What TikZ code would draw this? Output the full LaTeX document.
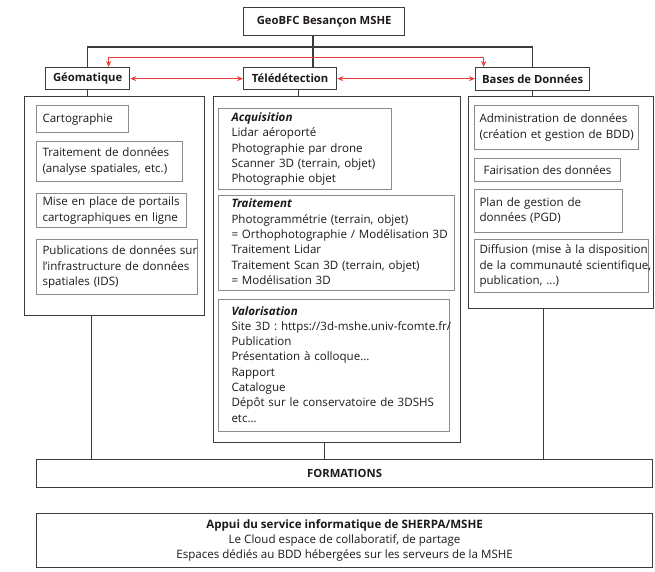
\documentclass[tikz,border=0pt]{standalone}
\usepackage{fontspec}
\setmainfont{Open Sans}
\usetikzlibrary{arrows.meta}
\definecolor{lnc}{HTML}{3C3C3C}
\definecolor{ibc}{HTML}{8C8C8C}
\definecolor{rdc}{HTML}{E8413C}
\definecolor{txc}{HTML}{1E1A1B}
\newcommand\tl[1]{\begin{tabular}{@{}l@{}}#1\end{tabular}}
\newcommand\tc[1]{\begin{tabular}{@{}c@{}}#1\end{tabular}}
\newlength\calwa
\newlength\calwb
% font sizes calibrated on the widths of reference lines
\AtBeginDocument{%
  \settowidth\calwa{\fontsize{10}{12}\selectfont = Orthophotographie / Modélisation 3D}%
  \settowidth\calwb{\fontsize{10}{12}\selectfont Site 3D : https://3d-mshe.univ-fcomte.fr/}%
  \pgfmathsetmacro\bszx{4300/(\calwa+\calwb)}\global\let\bsz\bszx
  \settowidth\calwa{\fontsize{10}{12}\selectfont\bfseries Bases de Données}%
  \pgfmathsetmacro\hszx{1010/\calwa}\global\let\hsz\hszx
}
\begin{document}
\begin{tikzpicture}[x=1pt,y=-1pt,
  every node/.style={font=\fontsize{\bsz}{15.3}\selectfont, text=txc},
  head/.style={draw=lnc, line width=1.3pt, font=\fontsize{\hsz}{15.3}\selectfont\bfseries, anchor=north west, inner sep=0pt},
  outer/.style={draw=lnc, line width=1.2pt, anchor=north west, inner sep=0pt},
  inbox/.style={draw=ibc, line width=1pt, anchor=north west, align=left, inner ysep=0pt},
  conn/.style={draw=lnc, line width=1.1pt},
  rarr/.style={draw=rdc, line width=0.8pt, {Stealth[length=6pt,width=5pt]}-{Stealth[length=6pt,width=5pt]}},
]
\useasboundingbox (0,0) rectangle (655,571);
\fill[white] (0,0) rectangle (655,571);

% top and level-2 boxes
\node[head, minimum width=161pt, minimum height=28pt] (top) at (243,7) {GeoBFC Besançon MSHE};
\node[head, minimum width=84pt, minimum height=22pt] (geo) at (45,67) {Géomatique};
\node[head, minimum width=93pt, minimum height=22pt] (tele) at (243,67) {Télédétection};
\node[head, minimum width=114pt, minimum height=23pt] (bdd) at (475,67) {Bases de Données};

% big boxes
\node[outer, minimum width=180pt, minimum height=219pt] (geobig) at (24,96) {};
\node[outer, minimum width=247pt, minimum height=346pt] (telebig) at (213,96) {};
\node[outer, minimum width=185pt, minimum height=212pt] (bddbig) at (468,96) {};

% Geomatique items
\node[inbox, inner xsep=6pt, text width=80pt, minimum height=27pt] (carto) at (36,105) {\tl{Cartographie}};
\node[inbox, inner xsep=6pt, text width=134pt, minimum height=40pt] (trdon) at (36,141) {\tl{Traitement de données\\(analyse spatiales, etc.)}};
\node[inbox, inner xsep=6pt, text width=138pt, minimum height=34pt] (portail) at (36,193) {\tl{Mise en place de portails\\cartographiques en ligne}};
\node[inbox, inner xsep=6pt, text width=149pt, minimum height=55pt] (ids) at (36,239) {\tl{Publications de données sur\\l'infrastructure de données\\spatiales (IDS)}};

% Teledetection items
\node[inbox, inner xsep=13pt, text width=147pt, minimum height=81pt] (acq) at (218,108) {\tl{\textbf{\textit{Acquisition}}\\Lidar aéroporté\\Photographie par drone\\Scanner 3D (terrain, objet)\\Photographie objet}};
\node[inbox, inner xsep=13pt, text width=210pt, minimum height=95pt] (trait) at (218,195) {\tl{\textbf{\textit{Traitement}}\\Photogrammétrie (terrain, objet)\\= Orthophotographie / Modélisation 3D\\Traitement Lidar\\Traitement Scan 3D (terrain, objet)\\= Modélisation 3D}};
\node[inbox, inner xsep=13pt, text width=205pt, minimum height=132pt] (valo) at (218,299) {\tl{\textbf{\textit{Valorisation}}\\Site 3D : https://3d-mshe.univ-fcomte.fr/\\Publication\\Présentation à colloque...\\Rapport\\Catalogue\\Dépôt sur le conservatoire de 3DSHS\\etc...}};

% Bases de donnees items
\node[inbox, inner xsep=5pt, text width=154pt, minimum height=44pt] (admin) at (474,105) {\tl{Administration de données\\(création et gestion de BDD)}};
\node[inbox, align=center, inner xsep=0pt, minimum width=146pt, minimum height=23pt] (fair) at (474,158) {Fairisation des données};
\node[inbox, inner xsep=5pt, text width=138pt, minimum height=43pt] (plan) at (474,189) {\tl{Plan de gestion de\\données (PGD)}};
\node[inbox, inner xsep=5pt, text width=164pt, minimum height=53pt] (diff) at (474,239) {\tl{Diffusion (mise à la disposition\\de la communauté scientifique,\\publication, ...)}};

% bottom boxes
\node[outer, font=\fontsize{\hsz}{15.3}\selectfont\bfseries, minimum width=616pt, minimum height=28pt] (form) at (36,459) {FORMATIONS};
\node[outer, minimum width=616pt, minimum height=54pt] (appui) at (36,513) {\tc{\textbf{Appui du service informatique de SHERPA/MSHE}\\Le Cloud espace de collaboratif, de partage\\Espaces dédiés au BDD hébergées sur les serveurs de la MSHE}};

% connectors
\coordinate (hl) at (313,47);
\coordinate (rl) at (313,57);
\draw[conn] (top.south -| hl) -- (tele.north -| hl);
\draw[conn] (geo.north) -- (geo.north |- hl) -- (bdd.north |- hl) -- (bdd.north);
\draw[conn] (geo.south) -- (geo.south |- geobig.north);
\draw[conn] ([xshift=8pt]tele.south) -- ([xshift=8pt]tele.south |- telebig.north);
\draw[conn] (bdd.south) -- (bdd.south |- bddbig.north);
\draw[conn] ([xshift=-23pt]geobig.south) -- ([xshift=-23pt]geobig.south |- form.north);
\draw[conn] ([xshift=-13pt]telebig.south) -- ([xshift=-13pt]telebig.south |- form.north);
\draw[conn] ([xshift=-18pt]bddbig.south) -- ([xshift=-18pt]bddbig.south |- form.north);

% red arrows
\draw[rarr] ([xshift=21pt]geo.north) -- ([xshift=21pt]geo.north |- rl) -- ([xshift=-49pt]bdd.north |- rl) -- ([xshift=-49pt]bdd.north);
\draw[rarr] (geo.east) -- (tele.west);
\draw[rarr] (tele.east) -- (tele.east -| bdd.west);
\end{tikzpicture}
\end{document}
